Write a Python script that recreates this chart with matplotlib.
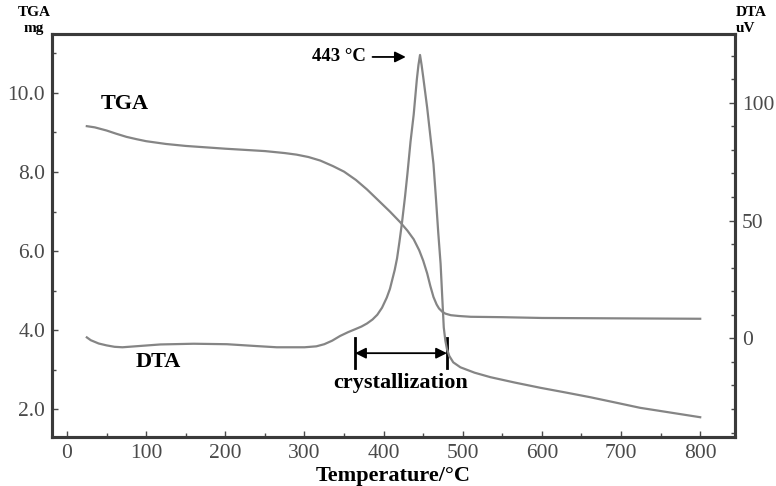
import matplotlib
matplotlib.use("Agg")
import matplotlib.pyplot as plt
from matplotlib.ticker import MultipleLocator, FormatStrFormatter

# TGA curve (left axis, mg)
tga_temp = [25, 35, 50, 62, 75, 88, 100, 125, 150, 200, 250, 275, 290, 305, 320,
            336, 350, 365, 379, 393, 408, 421, 430, 438, 445, 450, 455, 459, 463,
            467, 470, 474, 478, 485, 495, 510, 550, 600, 700, 800]
tga_mass = [9.16, 9.13, 9.05, 8.97, 8.89, 8.83, 8.78, 8.71, 8.66, 8.59, 8.53, 8.48,
            8.44, 8.38, 8.29, 8.15, 8.01, 7.80, 7.56, 7.29, 7.00, 6.73, 6.52, 6.30,
            6.02, 5.76, 5.44, 5.12, 4.84, 4.65, 4.55, 4.47, 4.42, 4.38, 4.36, 4.34,
            4.33, 4.31, 4.30, 4.29]

# DTA curve (right axis, uV)
dta_temp = [25, 30, 40, 50, 60, 70, 90, 118, 160, 202, 240, 265, 300, 315, 325,
            335, 345, 355, 365, 372, 379, 386, 392, 398, 404, 408, 411, 414, 417,
            420, 423, 427, 430, 434, 438, 442, 444, 446, 448, 450, 455, 460, 463,
            466, 469, 472, 474, 476, 478, 480, 483, 488, 497, 515, 535, 566, 598,
            630, 661, 692, 724, 762, 800]
dta_signal = [0.4, -0.8, -2.2, -3.0, -3.6, -3.8, -3.3, -2.6, -2.3, -2.5, -3.3, -3.8,
              -3.8, -3.4, -2.5, -1.0, 1.0, 2.6, 4.0, 5.0, 6.3, 8.0, 10.0, 13.0, 17.3,
              21, 25, 29, 34, 41, 48.5, 60, 69.6, 83.5, 95, 110, 116, 120.3, 116,
              111, 98, 83, 74, 60, 45, 31.6, 18, 4.6, -1, -4.5, -7.5, -10.2, -12.3,
              -14.6, -16.5, -18.8, -21, -23, -25, -27.2, -29.5, -31.5, -33.5]

peak_label = "443 \u00b0C"
crystal_range = (364, 480)

serif = "Liberation Serif"
line_color = "#858585"
spine_color = "#3a3a3a"
tick_color = "#4a4a4a"

fig = plt.figure(figsize=(7.76, 4.86), dpi=100)
ax = fig.add_axes([0.067, 0.1008, 0.8802, 0.8292])
ax2 = ax.twinx()

ax.plot(tga_temp, tga_mass, color=line_color, lw=1.6)
ax2.plot(dta_temp, dta_signal, color=line_color, lw=1.6)

ax.set_xlim(-19, 844)
ax.set_ylim(1.30, 11.49)
ax2.set_ylim(-41.9, 129.2)

ax.xaxis.set_major_locator(MultipleLocator(100))
ax.xaxis.set_minor_locator(MultipleLocator(50))
ax.yaxis.set_major_locator(MultipleLocator(2))
ax.yaxis.set_minor_locator(MultipleLocator(1))
ax.yaxis.set_major_formatter(FormatStrFormatter("%.1f"))
ax2.yaxis.set_major_locator(MultipleLocator(50))
ax2.yaxis.set_minor_locator(MultipleLocator(10))

for a in (ax, ax2):
    for s in a.spines.values():
        s.set_linewidth(2.2)
        s.set_color(spine_color)
    a.tick_params(which="major", direction="in", length=4, width=1, color=tick_color,
                  labelsize=15.5, labelcolor=tick_color, pad=5)
    a.tick_params(which="minor", direction="in", length=3, width=1, color=tick_color)
    for lab in a.get_xticklabels() + a.get_yticklabels():
        lab.set_fontfamily(serif)
ax.tick_params(axis="y", which="both", right=False)
ax2.tick_params(axis="y", which="both", left=False)

bold = dict(family=serif, fontweight="bold", color="black")

ax.set_xlabel("Temperature/\u00b0C", fontsize=16, labelpad=2, **bold)

# axis unit labels above the frame
fig.text(0.044, 0.958, "TGA\nmg", ha="center", va="center", fontsize=11,
         linespacing=1.35, **bold)
fig.text(0.948, 0.958, "DTA\nuV", ha="left", va="center", fontsize=11,
         linespacing=1.35, **bold)

# curve labels
ax.text(42, 9.72, "TGA", fontsize=16, va="center", ha="left", **bold)
ax.text(87, 3.19, "DTA", fontsize=16, va="center", ha="left", **bold)

# peak annotation
ax.annotate("", xy=(428, 10.91), xytext=(386, 10.91),
            arrowprops=dict(arrowstyle="-|>", color="black", lw=1.3,
                            mutation_scale=16, shrinkA=0, shrinkB=0))
ax.text(378, 10.91, peak_label, fontsize=13.5, ha="right", va="center", **bold)

# crystallization range
x0, x1 = crystal_range
ax.plot([x0, x0], [3.04, 3.80], color="black", lw=2)
ax.plot([x1, x1], [3.04, 3.80], color="black", lw=2)
ax.annotate("", xy=(x1, 3.42), xytext=(x0, 3.42),
            arrowprops=dict(arrowstyle="<|-|>", color="black", lw=1.3,
                            mutation_scale=16, shrinkA=0, shrinkB=0))
ax.text((x0 + x1) / 2, 2.66, "crystallization", fontsize=16, ha="center",
        va="center", **bold)

fig.savefig("out.png", dpi=100)
